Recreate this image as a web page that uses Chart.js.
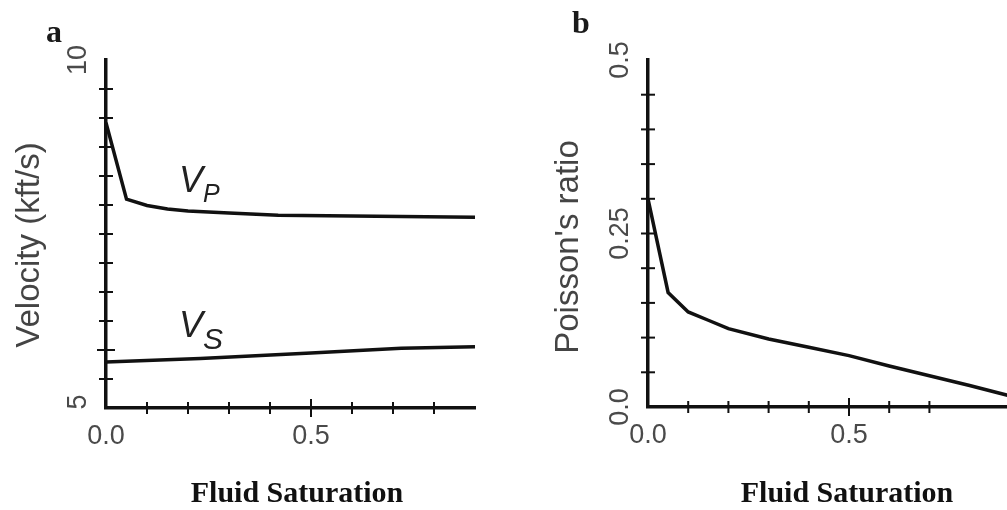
<!DOCTYPE html>
<html>
<head>
<meta charset="utf-8">
<script src="https://cdn.jsdelivr.net/npm/chart.js@4.4.1/dist/chart.umd.min.js"></script>
<style>
    body { margin: 0; width: 1007px; height: 510px; overflow: hidden; background: #fff; position: relative; }
    canvas { position: absolute; top: 0; }
    .panel { position: absolute; font: bold 32px "Liberation Serif", "Times New Roman", serif; line-height: 32px; color: #1a1a1a; }
    .xtitle { position: absolute; width: 300px; text-align: center; font: bold 30px "Liberation Serif", "Times New Roman", serif; line-height: 30px; color: #111; white-space: nowrap; }
    .ytitle { position: absolute; width: 300px; height: 33px; line-height: 33px; text-align: center; font: 33px "Liberation Sans", Arial, sans-serif; color: #444; white-space: nowrap; transform: translate(-50%, -50%) rotate(-90deg); }
    .vlab { position: absolute; font: italic 36px "Liberation Sans", Arial, sans-serif; line-height: 36px; color: #222; white-space: nowrap; }
    .vlab span { position: relative; line-height: 0; }
</style>
</head>
<body>
<canvas id="chartA" width="500" height="510" style="left:0"></canvas>
<canvas id="chartB" width="507" height="510" style="left:500px"></canvas>

<div class="panel" style="left:46px; top:15px">a</div>
<div class="panel" style="left:572px; top:6px">b</div>

<div class="ytitle" style="left:25px; top:245px">Velocity (kft/s)</div>
<div class="ytitle" style="left:564px; top:247px">Poisson's ratio</div>

<div class="xtitle" style="left:147px; top:477px">Fluid Saturation</div>
<div class="xtitle" style="left:697px; top:477px">Fluid Saturation</div>

<div class="vlab" style="left:179px; top:162px">V<span style="font-size:25px; top:10px">P</span></div>
<div class="vlab" style="left:179px; top:307px">V<span style="font-size:30px; top:12px">S</span></div>

<script>
// Panel a: velocities vs fluid saturation
const saturationP = [0, 0.05, 0.1, 0.15, 0.2, 0.3, 0.42, 0.6, 0.9];
const velocityP = [9.1, 8.0, 7.91, 7.86, 7.83, 7.8, 7.77, 7.76, 7.74];
const saturationS = [0, 0.23, 0.5, 0.72, 0.9];
const velocityS = [5.66, 5.71, 5.79, 5.86, 5.88];

// Panel b: Poisson's ratio vs fluid saturation
const saturationPr = [0, 0.05, 0.1, 0.15, 0.2, 0.3, 0.4, 0.5, 0.6, 0.7, 0.8, 0.9];
const poissonRatio = [0.30, 0.165, 0.137, 0.125, 0.113, 0.098, 0.086, 0.074, 0.059, 0.045, 0.031, 0.016];

// tick labels
const saturationTickLabels = ["0.0", "0.5"];
const velocityTickLabels = ["5", "10"];
const poissonTickLabels = ["0.0", "0.25", "0.5"];

function toPoints(xs, ys) {
    return xs.map((x, i) => ({ x: x, y: ys[i] }));
}

// tick marks crossing the axes + rotated tick labels
const axisDecor = {
    id: "axisDecor",
    afterDraw(chart, args, opts) {
        const ctx = chart.ctx;
        const xs = chart.scales.x;
        const ys = chart.scales.y;
        ctx.save();
        ctx.strokeStyle = "#111";
        ctx.lineWidth = 2;
        xs.ticks.forEach(function (t) {
            if (t.value <= xs.min + 1e-9 || t.value >= xs.max - 1e-6) return;
            const px = xs.getPixelForValue(t.value);
            const len = Math.abs(t.value - 0.5) < 1e-6 ? 9 : 6;
            ctx.beginPath();
            ctx.moveTo(px, xs.top - len);
            ctx.lineTo(px, xs.top + len);
            ctx.stroke();
        });
        ys.ticks.forEach(function (t, i) {
            if (t.value <= ys.min + 1e-9 || t.value >= ys.max - 1e-9) return;
            const py = ys.getPixelForValue(t.value);
            const len = opts.longY === i ? 9 : 7;
            ctx.beginPath();
            ctx.moveTo(ys.right - len, py);
            ctx.lineTo(ys.right + len, py);
            ctx.stroke();
        });

        ctx.fillStyle = "#4a4a4a";
        ctx.font = '27px "Liberation Sans", Arial, sans-serif';
        ctx.textAlign = "center";
        ctx.textBaseline = "middle";
        opts.xLabels.forEach(function (lab) {
            ctx.fillText(lab, xs.getPixelForValue(Number(lab)), xs.top + 29);
        });
        opts.yLabels.forEach(function (lab) {
            let py = ys.getPixelForValue(Number(lab));
            if (Number(lab) === ys.min) py -= opts.bottomNudge || 0;
            ctx.save();
            ctx.translate(ys.right - 27, py);
            ctx.rotate(-Math.PI / 2);
            ctx.fillText(lab, 0, 0);
            ctx.restore();
        });
        ctx.restore();
    }
};

function lineSet(points) {
    return {
        data: points,
        borderColor: "#111",
        borderWidth: 3.5,
        pointRadius: 0,
        tension: 0,
        fill: false
    };
}

function axisX(max, height) {
    return {
        type: "linear",
        min: 0,
        max: max,
        ticks: { display: false, stepSize: 0.1 },
        grid: { display: false, drawTicks: false },
        border: { display: true, width: 3.5, color: "#111" },
        afterFit: function (scale) { scale.height = height; }
    };
}

function axisY(min, max, tickOpts, width) {
    return {
        type: "linear",
        min: min,
        max: max,
        ticks: Object.assign({ display: false }, tickOpts),
        grid: { display: false, drawTicks: false },
        border: { display: true, width: 3.5, color: "#111" },
        afterFit: function (scale) { scale.width = width; }
    };
}

new Chart(document.getElementById("chartA"), {
    type: "line",
    data: {
        datasets: [
            lineSet(toPoints(saturationP, velocityP)),
            lineSet(toPoints(saturationS, velocityS))
        ]
    },
    options: {
        responsive: false,
        animation: false,
        layout: { padding: { left: 0, top: 60, right: 25, bottom: 0 } },
        plugins: {
            legend: { display: false },
            tooltip: { enabled: false },
            axisDecor: { xLabels: saturationTickLabels, yLabels: velocityTickLabels, longY: 2, bottomNudge: 6 }
        },
        scales: {
            x: axisX(0.9, 102),
            y: axisY(5, 10, { count: 13 }, 106)
        }
    },
    plugins: [axisDecor]
});

new Chart(document.getElementById("chartB"), {
    type: "line",
    data: {
        datasets: [
            lineSet(toPoints(saturationPr, poissonRatio))
        ]
    },
    options: {
        responsive: false,
        animation: false,
        layout: { padding: { left: 0, top: 60, right: 0, bottom: 0 } },
        plugins: {
            legend: { display: false },
            tooltip: { enabled: false },
            axisDecor: { xLabels: saturationTickLabels, yLabels: poissonTickLabels, longY: -1, bottomNudge: 0 }
        },
        scales: {
            x: axisX(0.893, 103),
            y: axisY(0, 0.5, { stepSize: 0.05 }, 148)
        }
    },
    plugins: [axisDecor]
});
</script>
</body>
</html>
